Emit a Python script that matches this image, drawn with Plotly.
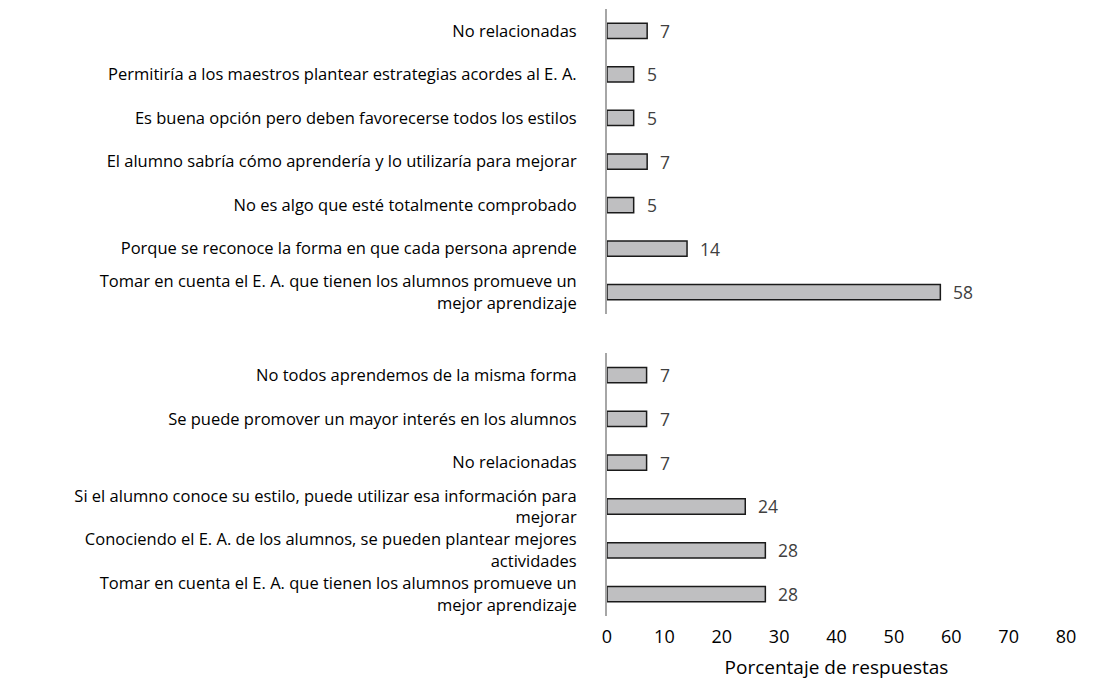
import plotly.graph_objects as go
from plotly.subplots import make_subplots

# top panel (listed top to bottom)
top_labels = [
    "No relacionadas",
    "Permitiría a los maestros plantear estrategias acordes al E. A.",
    "Es buena opción pero deben favorecerse todos los estilos",
    "El alumno sabría cómo aprendería y lo utilizaría para mejorar",
    "No es algo que esté totalmente comprobado",
    "Porque se reconoce la forma en que cada persona aprende",
    "Tomar en cuenta el E. A. que tienen los alumnos promueve un<br>mejor aprendizaje",
]
top_values = [7.0, 4.65, 4.65, 7.0, 4.65, 13.95, 58.1]
top_text = ["7", "5", "5", "7", "5", "14", "58"]

# bottom panel (listed top to bottom)
bottom_labels = [
    "No todos aprendemos de la misma forma",
    "Se puede promover un mayor interés en los alumnos",
    "No relacionadas",
    "Si el alumno conoce su estilo, puede utilizar esa información para<br>mejorar",
    "Conociendo el E. A. de los alumnos, se pueden plantear mejores<br>actividades",
    "Tomar en cuenta el E. A. que tienen los alumnos promueve un<br>mejor aprendizaje",
]
bottom_values = [6.9, 6.9, 6.9, 24.1, 27.6, 27.6]
bottom_text = ["7", "7", "7", "24", "28", "28"]

x_ticks = [0, 10, 20, 30, 40, 50, 60, 70, 80]

FONT = "Open Sans, Noto Sans, sans-serif"
BAR_FILL = "#bfbfc1"

fig = make_subplots(rows=2, cols=1, shared_xaxes=True, vertical_spacing=0.06)

for row, labels, values, texts in [
    (1, top_labels, top_values, top_text),
    (2, bottom_labels, bottom_values, bottom_text),
]:
    fig.add_trace(go.Bar(
        x=values,
        y=labels,
        orientation="h",
        width=0.35,
        marker=dict(color=BAR_FILL, line=dict(color="#1a1a1a", width=1.5)),
        showlegend=False,
        hoverinfo="skip",
    ), row=row, col=1)
    yref = "y" if row == 1 else "y2"
    for v, lab, t in zip(values, labels, texts):
        fig.add_annotation(
            x=v, y=lab, xref="x", yref=yref,
            text=t, showarrow=False, xanchor="left", xshift=11,
            font=dict(family=FONT, size=17.5, color="#404040"),
        )

fig.update_yaxes(
    autorange="reversed",
    showline=True, linecolor="#a6a6a6", linewidth=2,
    showgrid=False, zeroline=False,
    ticks="", ticklabelstandoff=25,
    tickfont=dict(family=FONT, size=16.5, color="#000000"),
)
fig.update_layout(
    yaxis=dict(domain=[0.4975, 1.0]),
    yaxis2=dict(domain=[0.0, 0.433]),
)
fig.update_xaxes(
    range=[0, 80], tickvals=x_ticks,
    showgrid=False, zeroline=False, showline=False,
    tickfont=dict(family=FONT, size=18, color="#000000"),
)
fig.update_xaxes(showticklabels=False, row=1, col=1)
fig.update_xaxes(
    title=dict(text="Porcentaje de respuestas", font=dict(family=FONT, size=19, color="#000000"), standoff=13),
    ticklabelstandoff=8,
    row=2, col=1,
)

fig.update_layout(
    width=1096, height=683,
    margin=dict(l=599, r=38, t=1, b=75),
    plot_bgcolor="white", paper_bgcolor="white",
    bargap=0.65,
)

fig.write_html("out.html")
